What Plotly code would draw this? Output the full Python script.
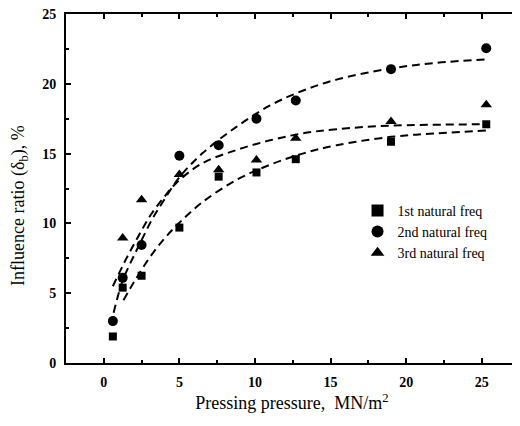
import plotly.graph_objects as go

# Measured data (pressing pressure, MN/m^2)
x1 = [0.6, 1.25, 2.5, 5.0, 7.6, 10.1, 12.7, 19.0, 25.3]
y1 = [1.9, 5.4, 6.25, 9.7, 13.35, 13.65, 14.6, 15.85, 17.1]

x2 = [0.6, 1.25, 2.5, 5.0, 7.6, 10.1, 12.7, 19.0, 25.3]
y2 = [3.0, 6.1, 8.45, 14.85, 15.6, 17.5, 18.8, 21.05, 22.55]

x3 = [1.25, 2.5, 5.0, 7.6, 10.1, 12.7, 19.0, 25.3]
y3 = [8.95, 11.7, 13.5, 13.85, 14.55, 16.1, 17.3, 18.5]

# Fitted (dashed) curves
fx1 = [1.3, 2.0, 3.0, 4.0, 5.0, 6.5, 8.75, 11.0, 13.15, 15.4, 19.0, 22.0, 25.3]
fy1 = [4.5, 5.8, 7.5, 8.9, 10.05, 11.5, 13.1, 14.2, 15.0, 15.6, 16.2, 16.45, 16.65]

fx2 = [0.65, 1.25, 2.0, 2.5, 3.2, 4.0, 5.0, 6.5, 8.75, 11.0, 13.15, 15.4, 19.0, 22.0, 25.3]
fy2 = [3.6, 5.9, 7.7, 8.8, 10.3, 11.7, 13.3, 15.0, 16.9, 18.45, 19.5, 20.3, 21.1, 21.5, 21.75]

fx3 = [0.6, 1.5, 2.4, 3.1, 4.0, 4.8, 6.5, 8.75, 11.0, 13.15, 15.4, 19.0, 25.3]
fy3 = [5.5, 7.5, 9.3, 10.6, 11.9, 12.9, 14.3, 15.25, 15.95, 16.45, 16.75, 17.0, 17.1]

names = ["1st natural freq", "2nd natural freq", "3rd natural freq"]
x_title = "Pressing pressure,  MN/m<sup>2</sup>"
y_title = "Influence ratio (δ<sub>b</sub>), %"

FONT = "Liberation Serif, Times New Roman, serif"

fig = go.Figure()

for fx, fy in [(fx1, fy1), (fx2, fy2), (fx3, fy3)]:
    fig.add_trace(go.Scatter(
        x=fx, y=fy, mode="lines", showlegend=False,
        line=dict(color="black", width=2, dash="8px,5px", shape="spline"),
        hoverinfo="skip"))

for xs, ys, sym, sz, nm in [(x1, y1, "square", 8, names[0]),
                            (x2, y2, "circle", 10, names[1]),
                            (x3, y3, "triangle-up", 10, names[2])]:
    fig.add_trace(go.Scatter(
        x=xs, y=ys, mode="markers", name=nm,
        marker=dict(symbol=sym, size=sz, color="black")))

axis_common = dict(
    showline=True, linecolor="black", linewidth=2, mirror="allticks",
    ticks="inside", ticklen=5, tickwidth=1.5, tickcolor="black",
    showgrid=False, zeroline=False, automargin=False,
    ticklabelstandoff=5, ticklabeloverflow="allow",
    tickfont=dict(family=FONT, size=14, color="black", weight="bold"),
)

fig.update_xaxes(range=[-2.5, 27.4], dtick=5, tick0=0,
                 minor=dict(ticks="inside", ticklen=3, dtick=2.5, tick0=0, tickcolor="black"),
                 title=dict(text=x_title,
                            font=dict(family=FONT, size=18, color="black"), standoff=8),
                 **axis_common)
fig.update_yaxes(range=[0, 25], dtick=5, tick0=0,
                 minor=dict(ticks="inside", ticklen=3, dtick=2.5, tick0=0, tickcolor="black"),
                 **axis_common)

fig.add_annotation(text=y_title, textangle=-90, xref="paper", yref="paper",
                   x=0, y=0.45, xanchor="center", yanchor="middle", xshift=-46,
                   showarrow=False, font=dict(family=FONT, size=18, color="black"))

# page body has an 8px margin: size the figure to fill the remaining window
fig.update_layout(
    width=512, height=418,
    margin=dict(l=58, r=2, t=6, b=63),
    paper_bgcolor="white", plot_bgcolor="white",
    legend=dict(x=0.645, y=0.482, xanchor="left", yanchor="top",
                font=dict(family=FONT, size=14, color="black"),
                bgcolor="rgba(0,0,0,0)", itemsizing="constant",
                tracegroupgap=0),
)

fig.write_html("out.html")
